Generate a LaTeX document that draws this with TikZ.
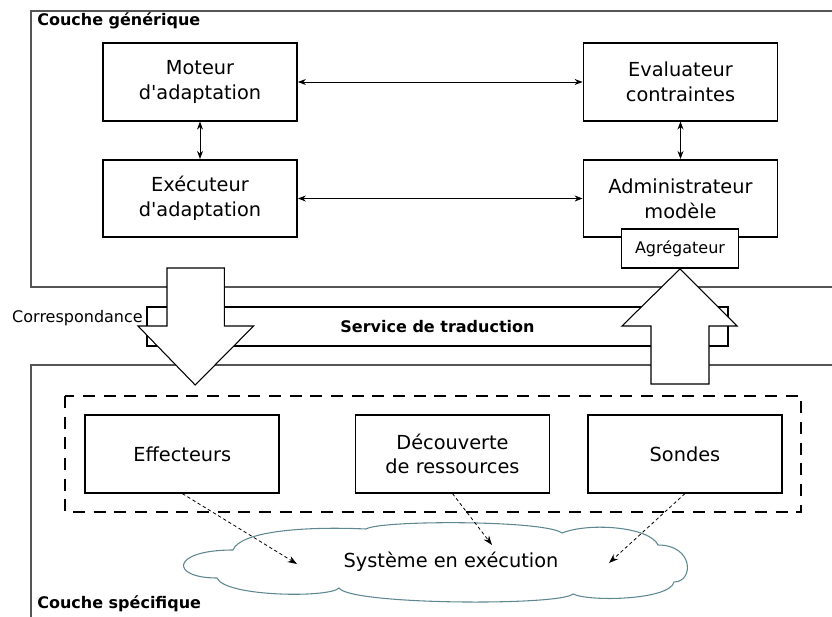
\documentclass[tikz,border=0pt]{standalone}
\usepackage{fontspec}
\setmainfont[Ligatures=TeXOff]{DejaVu Sans}
\usetikzlibrary{arrows.meta}
\definecolor{cloudline}{RGB}{95,135,145}
\definecolor{framegray}{RGB}{85,85,85}
\newcommand{\bigfont}{\fontsize{14.5}{18.5}\selectfont}
\newcommand{\smallfont}{\fontsize{12}{14}\selectfont}
\newcommand{\boxline}{1.35pt}

\begin{document}
\begin{tikzpicture}[x=.75pt, y=-.75pt,
    blk/.style={draw, line width=\boxline, fill=white, align=center, inner sep=0pt,
                minimum width=145.5pt, minimum height=58pt, font=\bigfont},
    sblk/.style={draw, line width=\boxline, fill=white, inner sep=0pt,
                minimum width=87.75pt, minimum height=29.25pt, font=\smallfont},
    lnk/.style={{Stealth[length=6pt,width=4.5pt]}-{Stealth[length=6pt,width=4.5pt]}, line width=.7pt},
    dotlnk/.style={-{Stealth[length=7pt,width=5pt]}, line width=.6pt, dash pattern=on 2.5pt off 2pt},
    bigarrow/.style={draw, line width=.8pt, fill=white, line join=miter},
    lab/.style={inner sep=0pt, font=\smallfont\bfseries}]
      \useasboundingbox (0,0) rectangle (832,617);

          %%  the two layers %%
      \draw[framegray, line width=.8pt] (31,11) rectangle (850,287);
      \draw[framegray, line width=.8pt] (31,365) rectangle (850,640);
      \node (gen) at (37,26) [lab, anchor=base west] {Couche générique};
      \node (spec) at (37,608.5) [lab, anchor=base west] {Couche spécifique};

          %%  generic layer %%
      \node (mot) at (200,82) [blk] {Moteur\\d'adaptation};
      \node (eva) at (680.5,82) [blk] {Evaluateur\\contraintes};
      \node (exe) at (200,198.5) [blk] {Exécuteur\\d'adaptation};
      \node (adm) at (680.5,198.5) [blk] {Administrateur\\modèle};
      \draw[lnk] (mot) to (eva);
      \draw[lnk] (exe) to (adm);
      \draw[lnk] (mot) to (exe);
      \draw[lnk] (eva) to (adm);
      \node (agr) at (680,248.5) [sblk] {Agrégateur};

          %%  translation service %%
      \node (srv) at (437.5,326.5) [draw, line width=\boxline, inner sep=0pt,
            minimum width=435.75pt, minimum height=29.25pt, font=\smallfont\bfseries] {Service de traduction};
      \node (cor) at (143,318) [anchor=east, inner sep=0pt, font=\smallfont] {Correspondance};

      \coordinate (down) at (195.2,385);
      \draw[bigarrow] (167,268) -- (224.4,268) -- (224.4,326) -- (253.6,326) -- (down)
            -- (138,326) -- (167,326) -- cycle;
      \draw[bigarrow] (agr.south) -- (737,326) -- (709,326) -- (709,384) -- (651,384)
            -- (651,326) -- (622,326) -- cycle;

          %%  specific layer %%
      \draw[line width=.8pt, dash pattern=on 9pt off 6.5pt] (65,396) rectangle (801,512);
      \node (eff) at (182.3,454) [blk] {Effecteurs};
      \node (dec) at (452.5,454) [blk] {Découverte\\de ressources};
      \node (son) at (685,454) [blk] {Sondes};

          %%  the running system (cloud) %%
      \draw[cloudline, line width=.8pt] (217,578)
            .. controls (170,578) and (170,550) .. (233,550)
            .. controls (240,532) and (300,526) .. (366,529)
            .. controls (380,520) and (545,520) .. (562,533)
            .. controls (590,522) and (650,527) .. (658,545)
            .. controls (694,545) and (694,582) .. (674,582)
            .. controls (670,600) and (590,602) .. (573,594)
            .. controls (560,606) and (350,605) .. (339,588)
            .. controls (330,598) and (225,597) .. cycle;
      \node (sys) at (451,562) [font=\bigfont, inner sep=0pt] {Système en exécution};

      \coordinate (e1) at (297,564);
      \coordinate (e2) at (492,545);
      \coordinate (e3) at (609,563);
      \draw[dotlnk] (eff.south) to (e1);
      \draw[dotlnk] (dec.south) to (e2);
      \draw[dotlnk] (son.south) to (e3);
\end{tikzpicture}
\end{document}
